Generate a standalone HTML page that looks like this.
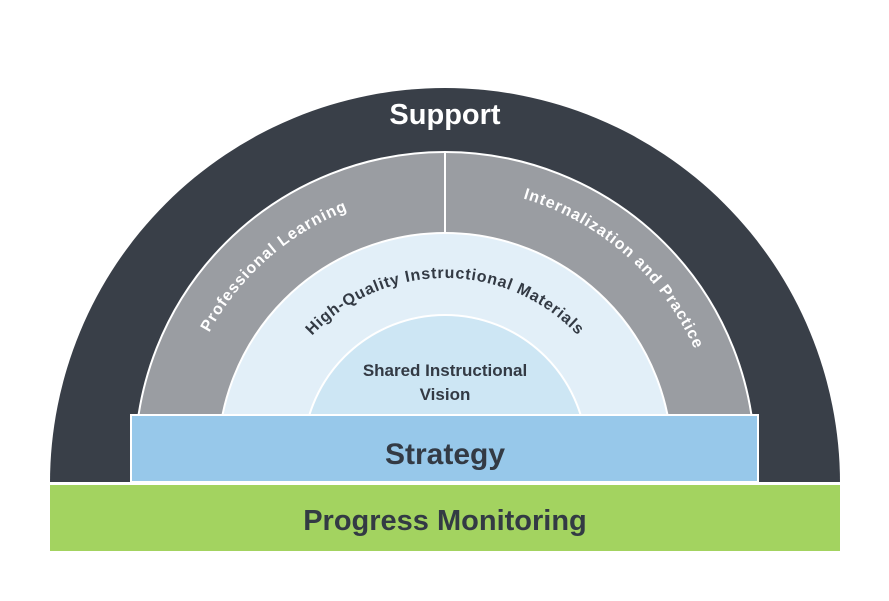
<!DOCTYPE html>
<html><head><meta charset="utf-8"><style>
html,body{margin:0;padding:0;background:#fff;overflow:hidden;width:889px;height:601px;}
svg{display:block;}
text{font-family:"Liberation Sans",Arial,sans-serif;font-weight:bold;}
</style></head><body>
<svg width="889" height="601" viewBox="0 0 889 601" xmlns="http://www.w3.org/2000/svg">
<defs>
<clipPath id="c1"><rect x="0" y="0" width="889" height="414"/></clipPath>
<path id="pl" d="M177,460 A268,268 0 0 1 445,192"/>
<path id="pr" d="M445,187 A273,273 0 0 1 718,460"/>
<path id="ph" d="M263,460 A182,182 0 0 1 627,460"/>
</defs>
<rect width="889" height="601" fill="#fff"/>
<path d="M50,483 A395,395 0 0 1 840,483 Z" fill="#393f48"/>
<rect x="0" y="482" width="889" height="3" fill="#fff"/>
<rect x="50" y="485" width="790" height="66" fill="#a3d360"/>
<g clip-path="url(#c1)">
<circle cx="445" cy="462" r="310" fill="#9a9da2" stroke="#fff" stroke-width="2"/>
<line x1="445" y1="153" x2="445" y2="234" stroke="#fff" stroke-width="2"/>
<circle cx="445" cy="460" r="227" fill="#e2eff8" stroke="#fff" stroke-width="2"/>
<circle cx="445" cy="457" r="142" fill="#cde6f4" stroke="#fff" stroke-width="2"/>
</g>
<rect x="131" y="415" width="627" height="67" fill="#97c8ea" stroke="#fff" stroke-width="2"/>
<text x="445" y="124" font-size="29" fill="#fff" text-anchor="middle">Support</text>
<text font-size="16" fill="#fff" letter-spacing="1"><textPath href="#pl" startOffset="54%" text-anchor="middle">Professional Learning</textPath></text>
<text font-size="16" fill="#fff" letter-spacing="1"><textPath href="#pr" startOffset="46%" text-anchor="middle">Internalization and Practice</textPath></text>
<text font-size="16" fill="#333a44" letter-spacing="0.8"><textPath href="#ph" startOffset="50%" text-anchor="middle">High-Quality Instructional Materials</textPath></text>
<text x="445" y="376" font-size="17" fill="#333a44" text-anchor="middle">Shared Instructional</text>
<text x="445" y="400" font-size="17" fill="#333a44" text-anchor="middle">Vision</text>
<text x="445" y="464" font-size="30" fill="#333a44" text-anchor="middle">Strategy</text>
<text x="445" y="530" font-size="29" fill="#333a44" text-anchor="middle">Progress Monitoring</text>
</svg>
</body></html>
